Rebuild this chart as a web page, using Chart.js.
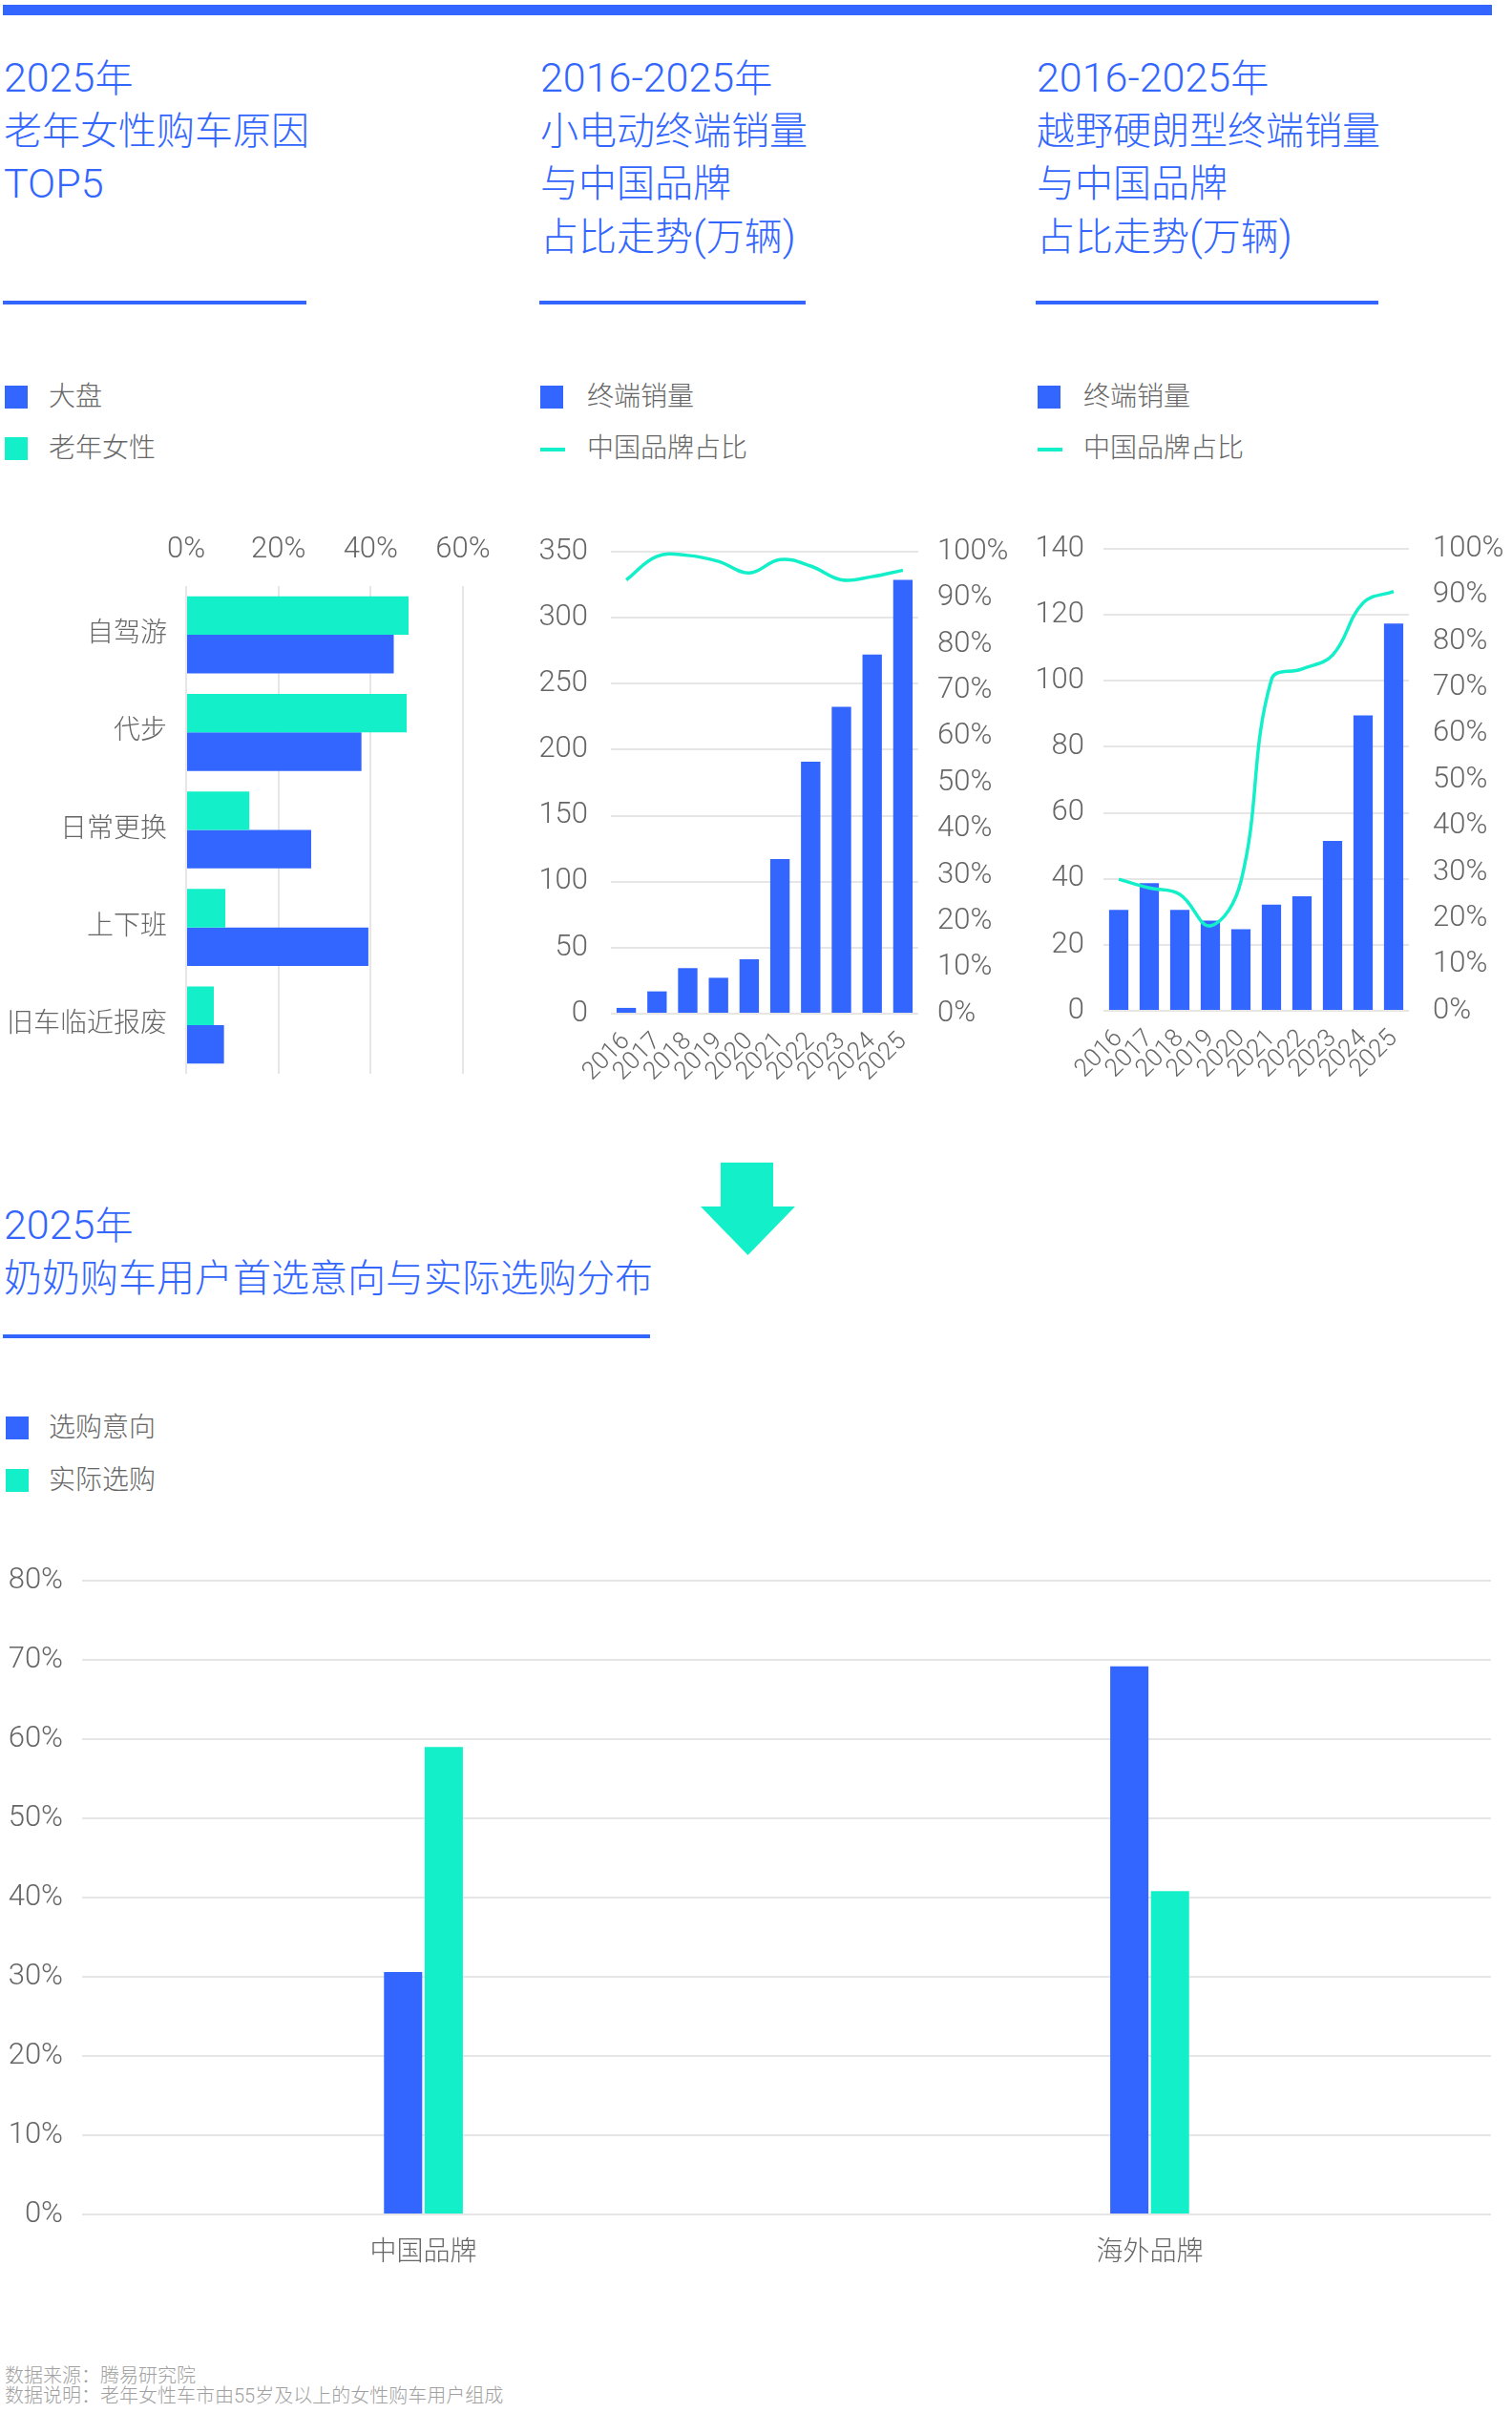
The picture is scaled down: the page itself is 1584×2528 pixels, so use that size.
<!DOCTYPE html>
<html>
<head>
<meta charset="utf-8">
<script src="https://cdn.jsdelivr.net/npm/chart.js@4.4.1/dist/chart.umd.min.js"></script>
<style>
    body { margin: 0; background: #fff; }
    #page {
        position: relative; width: 1584px; height: 2528px; overflow: hidden;
        font-family: Roboto, 'Noto Sans CJK SC', sans-serif; font-weight: 300;
    }
    .rule { position: absolute; background: #3366ff; }
    .title { position: absolute; color: #3366ff; font-size: 40px; line-height: 55px; white-space: nowrap; }
    .title .n { font-size: 43px; line-height: 55px; }
    .lg { position: absolute; font-size: 28px; line-height: 54px; color: #666; white-space: nowrap; }
    .sw { position: absolute; width: 24px; height: 24px; }
    .ln { position: absolute; width: 26px; height: 4px; }
    .note { position: absolute; left: 5px; top: 2479px; font-size: 20px; line-height: 21px; color: #a0a0a0; white-space: nowrap; }
    canvas { position: absolute; }
</style>
</head>
<body>
<div id="page">
    <div class="rule" style="left:3px;top:5px;width:1560px;height:11px"></div>

    <div class="title" style="left:4px;top:54px"><span class="n">2025</span>年<br>老年女性购车原因<br><span class="n">TOP5</span></div>
    <div class="title" style="left:566px;top:54px"><span class="n">2016-2025</span>年<br>小电动终端销量<br>与中国品牌<br>占比走势<span class="n">(</span>万辆<span class="n">)</span></div>
    <div class="title" style="left:1086px;top:54px"><span class="n">2016-2025</span>年<br>越野硬朗型终端销量<br>与中国品牌<br>占比走势<span class="n">(</span>万辆<span class="n">)</span></div>

    <div class="rule" style="left:3px;top:315px;width:318px;height:4px"></div>
    <div class="rule" style="left:565px;top:315px;width:279px;height:4px"></div>
    <div class="rule" style="left:1085px;top:315px;width:359px;height:4px"></div>

    <div class="sw" style="left:5px;top:404px;background:#3366ff"></div>
    <div class="lg" style="left:51px;top:389px">大盘</div>
    <div class="sw" style="left:5px;top:458px;background:#13efc9"></div>
    <div class="lg" style="left:51px;top:443px">老年女性</div>

    <div class="sw" style="left:566px;top:404px;background:#3366ff"></div>
    <div class="lg" style="left:615px;top:389px">终端销量</div>
    <div class="ln" style="left:566px;top:469px;background:#13efc9"></div>
    <div class="lg" style="left:615px;top:443px">中国品牌占比</div>

    <div class="sw" style="left:1087px;top:404px;background:#3366ff"></div>
    <div class="lg" style="left:1135px;top:389px">终端销量</div>
    <div class="ln" style="left:1087px;top:469px;background:#13efc9"></div>
    <div class="lg" style="left:1135px;top:443px">中国品牌占比</div>

    <canvas id="reasons" width="540" height="600" style="left:0;top:540px"></canvas>
    <canvas id="evChart" width="530" height="600" style="left:530px;top:540px"></canvas>
    <canvas id="offroadChart" width="524" height="600" style="left:1060px;top:540px"></canvas>

    <svg style="position:absolute;left:734px;top:1218px" width="99" height="97">
        <rect x="21" y="0" width="55" height="47" fill="#13efc9"></rect>
        <polygon points="0,46 99,46 49.5,97" fill="#13efc9"></polygon>
    </svg>

    <div class="title" style="left:4px;top:1256px"><span class="n">2025</span>年<br>奶奶购车用户首选意向与实际选购分布</div>
    <div class="rule" style="left:3px;top:1398px;width:678px;height:4px"></div>

    <div class="sw" style="left:6px;top:1484px;background:#3366ff"></div>
    <div class="lg" style="left:51px;top:1469px">选购意向</div>
    <div class="sw" style="left:6px;top:1539px;background:#13efc9"></div>
    <div class="lg" style="left:51px;top:1524px">实际选购</div>

    <canvas id="brandChart" width="1584" height="800" style="left:0;top:1600px"></canvas>

    <div class="note">数据来源：腾易研究院<br>数据说明：老年女性车市由55岁及以上的女性购车用户组成</div>
</div>

<script>
const BLUE = '#3366ff';
const TEAL = '#13efc9';
const GRID = '#e6e6e6';

// 2025年 老年女性购车原因 TOP5 (%)
const reasonLabels = ['自驾游', '代步', '日常更换', '上下班', '旧车临近报废'];
const reasonMarket = [45.0, 38.0, 27.1, 39.5, 8.2];
const reasonElder = [48.2, 47.8, 13.7, 8.5, 6.0];

// 2016-2025 年份
const years = ['2016', '2017', '2018', '2019', '2020', '2021', '2022', '2023', '2024', '2025'];

// 小电动 终端销量(万辆) / 中国品牌占比(%)
const evSales = [4.4, 16.9, 34.6, 27.2, 41.3, 117.2, 190.9, 232.5, 272.1, 328.7];
const evShare = [93.9, 99.0, 99.2, 97.9, 95.4, 98.3, 96.9, 93.9, 94.6, 96.0];

// 越野硬朗型 终端销量(万辆) / 中国品牌占比(%)
const offroadSales = [30.6, 38.7, 30.6, 27.3, 24.7, 32.2, 34.7, 51.5, 89.5, 117.4];
const offroadShare = [28.5, 26.6, 25.2, 18.4, 28.0, 71.7, 74.0, 77.0, 88.3, 90.8];

// 奶奶购车用户 首选意向 vs 实际选购 (%)
const brandLabels = ['中国品牌', '海外品牌'];
const brandIntent = [30.6, 69.2];
const brandActual = [59.0, 40.8];

Chart.defaults.font.family = "Roboto, 'Noto Sans CJK SC', sans-serif";
Chart.defaults.font.weight = '300';
Chart.defaults.color = '#666';
Chart.defaults.animation = false;
Chart.defaults.responsive = false;
Chart.defaults.plugins.legend.display = false;
Chart.defaults.plugins.tooltip.enabled = false;

// force an axis to a fixed size so the plot area lands where it should
function fixSize(prop, val) {
    return function (scale) {
        scale[prop] = val;
        scale.paddingLeft = 0;
        scale.paddingRight = 0;
        scale.paddingTop = 0;
        scale.paddingBottom = 0;
    };
}

const pct = v => v + '%';

reasonChart();
comboChart('evChart', evSales, evShare, 350, 50, {left: 110, right: 98, top: 38, bottom: 78, padL: 24, padR: 20});
comboChart('offroadChart', offroadSales, offroadShare, 140, 20, {left: 96, right: 108, top: 35, bottom: 81, padL: 20, padR: 25});
brandChart();

function reasonChart() {
    new Chart(document.getElementById('reasons'), {
        type: 'bar',
        data: {
            labels: reasonLabels,
            datasets: [
                {label: '老年女性', data: reasonElder, backgroundColor: TEAL},
                {label: '大盘', data: reasonMarket, backgroundColor: BLUE}
            ]
        },
        options: {
            indexAxis: 'y',
            layout: {padding: {left: 0, right: 55, top: 0, bottom: 15}},
            datasets: {bar: {categoryPercentage: 0.79, barPercentage: 1}},
            scales: {
                x: {
                    position: 'top',
                    min: 0,
                    max: 60,
                    ticks: {stepSize: 20, callback: pct, padding: 19, font: {size: 31}},
                    grid: {color: GRID, lineWidth: 2, drawTicks: false},
                    border: {display: false},
                    afterFit: fixSize('height', 74)
                },
                y: {
                    ticks: {padding: 20, font: {size: 28}},
                    grid: {display: false, drawTicks: false},
                    border: {display: false},
                    afterFit: fixSize('width', 195)
                }
            }
        }
    });
}

function comboChart(id, sales, share, max, step, box) {
    new Chart(document.getElementById(id), {
        type: 'bar',
        data: {
            labels: years,
            datasets: [
                {
                    type: 'line',
                    label: '中国品牌占比',
                    data: share,
                    yAxisID: 'y1',
                    borderColor: TEAL,
                    borderWidth: 3.5,
                    pointRadius: 0,
                    tension: 0.4,
                    order: 0
                },
                {
                    label: '终端销量',
                    data: sales,
                    backgroundColor: BLUE,
                    categoryPercentage: 0.8,
                    barPercentage: 0.79,
                    order: 1
                }
            ]
        },
        options: {
            layout: {padding: {left: 0, right: 0, top: box.top, bottom: 0}},
            scales: {
                x: {
                    ticks: {minRotation: 45, maxRotation: 45, padding: 14, font: {size: 26}, autoSkip: false},
                    grid: {display: false, drawTicks: false},
                    border: {display: false},
                    afterFit: fixSize('height', box.bottom)
                },
                y: {
                    min: 0,
                    max: max,
                    ticks: {stepSize: step, padding: box.padL, font: {size: 31}},
                    grid: {color: GRID, lineWidth: 2, drawTicks: false},
                    border: {display: false},
                    afterFit: fixSize('width', box.left)
                },
                y1: {
                    position: 'right',
                    min: 0,
                    max: 100,
                    ticks: {stepSize: 10, callback: pct, padding: box.padR, font: {size: 31}},
                    grid: {display: false, drawTicks: false},
                    border: {display: false},
                    afterFit: fixSize('width', box.right)
                }
            }
        }
    });
}

function brandChart() {
    // linear x so the two groups sit a bit further apart than plain categories would
    const toXY = arr => arr.map((v, i) => ({x: i, y: v}));
    new Chart(document.getElementById('brandChart'), {
        type: 'bar',
        data: {
            datasets: [
                {label: '选购意向', data: toXY(brandIntent), backgroundColor: BLUE},
                {label: '实际选购', data: toXY(brandActual), backgroundColor: TEAL}
            ]
        },
        options: {
            layout: {padding: {left: 0, right: 22, top: 56, bottom: 0}},
            datasets: {bar: {categoryPercentage: 0.112, barPercentage: 0.94}},
            scales: {
                x: {
                    type: 'linear',
                    offset: false,
                    min: -0.47,
                    max: 1.47,
                    afterBuildTicks: s => { s.ticks = brandLabels.map((_, i) => ({value: i})); },
                    ticks: {padding: 24, font: {size: 28}, callback: v => brandLabels[v]},
                    grid: {display: false, drawTicks: false},
                    border: {display: false},
                    afterFit: fixSize('height', 80)
                },
                y: {
                    min: 0,
                    max: 80,
                    ticks: {stepSize: 10, callback: pct, padding: 20, font: {size: 31}},
                    grid: {color: GRID, lineWidth: 2, drawTicks: false},
                    border: {display: false},
                    afterFit: fixSize('width', 86)
                }
            }
        }
    });
}
</script>
</body>
</html>
